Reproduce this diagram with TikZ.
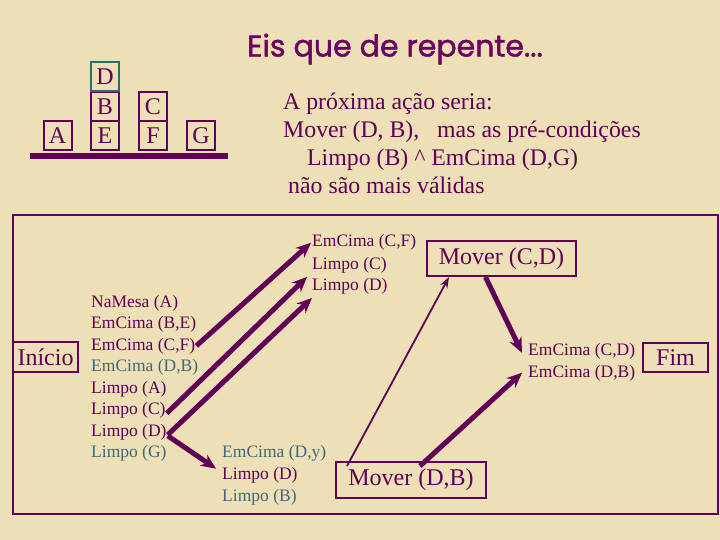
\documentclass[tikz,border=0pt]{standalone}
\usepackage{fontspec}
\setmainfont{Liberation Serif}
\newfontfamily\titlefont[FakeBold=1.5]{Poppins}
\usetikzlibrary{arrows.meta,calc}
\definecolor{paper}{RGB}{237,223,182}
\definecolor{plum}{RGB}{96,0,86}
\definecolor{tealtext}{RGB}{64,104,122}
\definecolor{dteal}{RGB}{40,112,100}
\definecolor{titlec}{RGB}{110,0,96}
\begin{document}
\begin{tikzpicture}[x=1pt,y=-1pt,
  item/.style={anchor=base west,inner sep=1pt,font=\fontsize{17.5}{20}\selectfont,text=plum},
  itemb/.style={item,text=tealtext},
  block/.style={draw=plum,line width=2pt,minimum width=28pt,minimum height=29pt,inner sep=0pt,text=plum,font=\fontsize{24}{24}\selectfont},
  lbox/.style={draw=plum,line width=2pt,inner sep=0pt,text=plum,font=\fontsize{24}{24}\selectfont},
  para/.style={anchor=base west,inner sep=0pt,text=plum,font=\fontsize{23.8}{26}\selectfont},
  bigarrow/.style={plum,line width=5pt,-{Stealth[length=15pt,width=13pt]}},
  smallarrow/.style={plum,line width=1.8pt,-{Stealth[length=11pt,width=8pt]}}]
% background
\fill[paper] (0,0) rectangle (720,540);
% title
\node[text=titlec,font=\titlefont\fontsize{30}{32}\selectfont] (title) at (395,49) {Eis que de repente...};
% blocks
\node[block] (bA) at (57.5,135.5) {A};
\node[block] (bE) at (105,135.5) {E};
\node[block] (bB) at (105,106.5) {B};
\node[block,draw=dteal] (bD) at (105,77) {D};
\node[block] (bF) at (153,135.5) {F};
\node[block] (bC) at (153,106.5) {C};
\node[block] (bG) at (201,135.5) {G};
\fill[plum] (30,153) rectangle (228,159);
% paragraph
\node[para] (p1) at (283,110) {A próxima ação seria:};
\node[para] (p2) at (283,138) {Mover (D, B),\ \ \ mas as pré-condições};
\node[para] (p3) at (307,166) {Limpo (B) \^{} EmCima (D,G)};
\node[para] (p4) at (288,194) {não são mais válidas};
% frame
\draw[plum,line width=2pt] (13,215) rectangle (718,514);
% boxes
\node[lbox,minimum width=65pt,minimum height=30pt] (ini) at (45.5,357) {Início};
\node[lbox,minimum width=149pt,minimum height=35pt] (mcd) at (501.5,258.5) {Mover (C,D)};
\node[lbox,minimum width=150pt,minimum height=36pt] (mdb) at (411,480) {Mover (D,B)};
\node[lbox,minimum width=65pt,minimum height=29pt] (fim) at (675.5,357.5) {Fim};
% left list
\node[item] (l1) at (90,307) {NaMesa (A)};
\node[item] (l2) at (90,328.5) {EmCima (B,E)};
\node[item] (l3) at (90,350) {EmCima (C,F)};
\node[itemb] (l4) at (90,371.5) {EmCima (D,B)};
\node[item] (l5) at (90,393) {Limpo (A)};
\node[item] (l6) at (90,414.5) {Limpo (C)};
\node[item] (l7) at (90,436) {Limpo (D)};
\node[itemb] (l8) at (90,457.5) {Limpo (G)};
% top middle list
\node[item] (t1) at (311,247) {EmCima (C,F)};
\node[item] (t2) at (311,269) {Limpo (C)};
\node[item] (t3) at (311,290) {Limpo (D)};
% bottom list
\node[itemb] (u1) at (221,457) {EmCima (D,y)};
\node[item] (u2) at (221,479) {Limpo (D)};
\node[itemb] (u3) at (221,501) {Limpo (B)};
% right list
\node[item] (r1) at (527,355) {EmCima (C,D)};
\node[item] (r2) at (527,377) {EmCima (D,B)};
% arrows
\draw[bigarrow] (l3.east) -- (t1.west);
\draw[bigarrow] ([yshift=-3pt]l6.east) -- ([xshift=-4pt,yshift=-3pt]t2.south west);
\draw[bigarrow] ([yshift=-3pt]l7.east) -- ([xshift=1pt,yshift=-3pt]t3.south west);
\draw[bigarrow] ([yshift=-4pt]l7.east) -- ([xshift=-5pt,yshift=-3pt]u2.north west);
\draw[smallarrow] ([xshift=12pt,yshift=-5pt]mdb.north west) -- ([xshift=23pt]mcd.south west);
\draw[bigarrow] ([xshift=-16pt]mcd.south) -- ([xshift=-5pt,yshift=-2pt]r1.west);
\draw[bigarrow] ([xshift=9pt,yshift=-5pt]mdb.north) -- ([xshift=-5pt]r2.west);
\end{tikzpicture}
\end{document}
